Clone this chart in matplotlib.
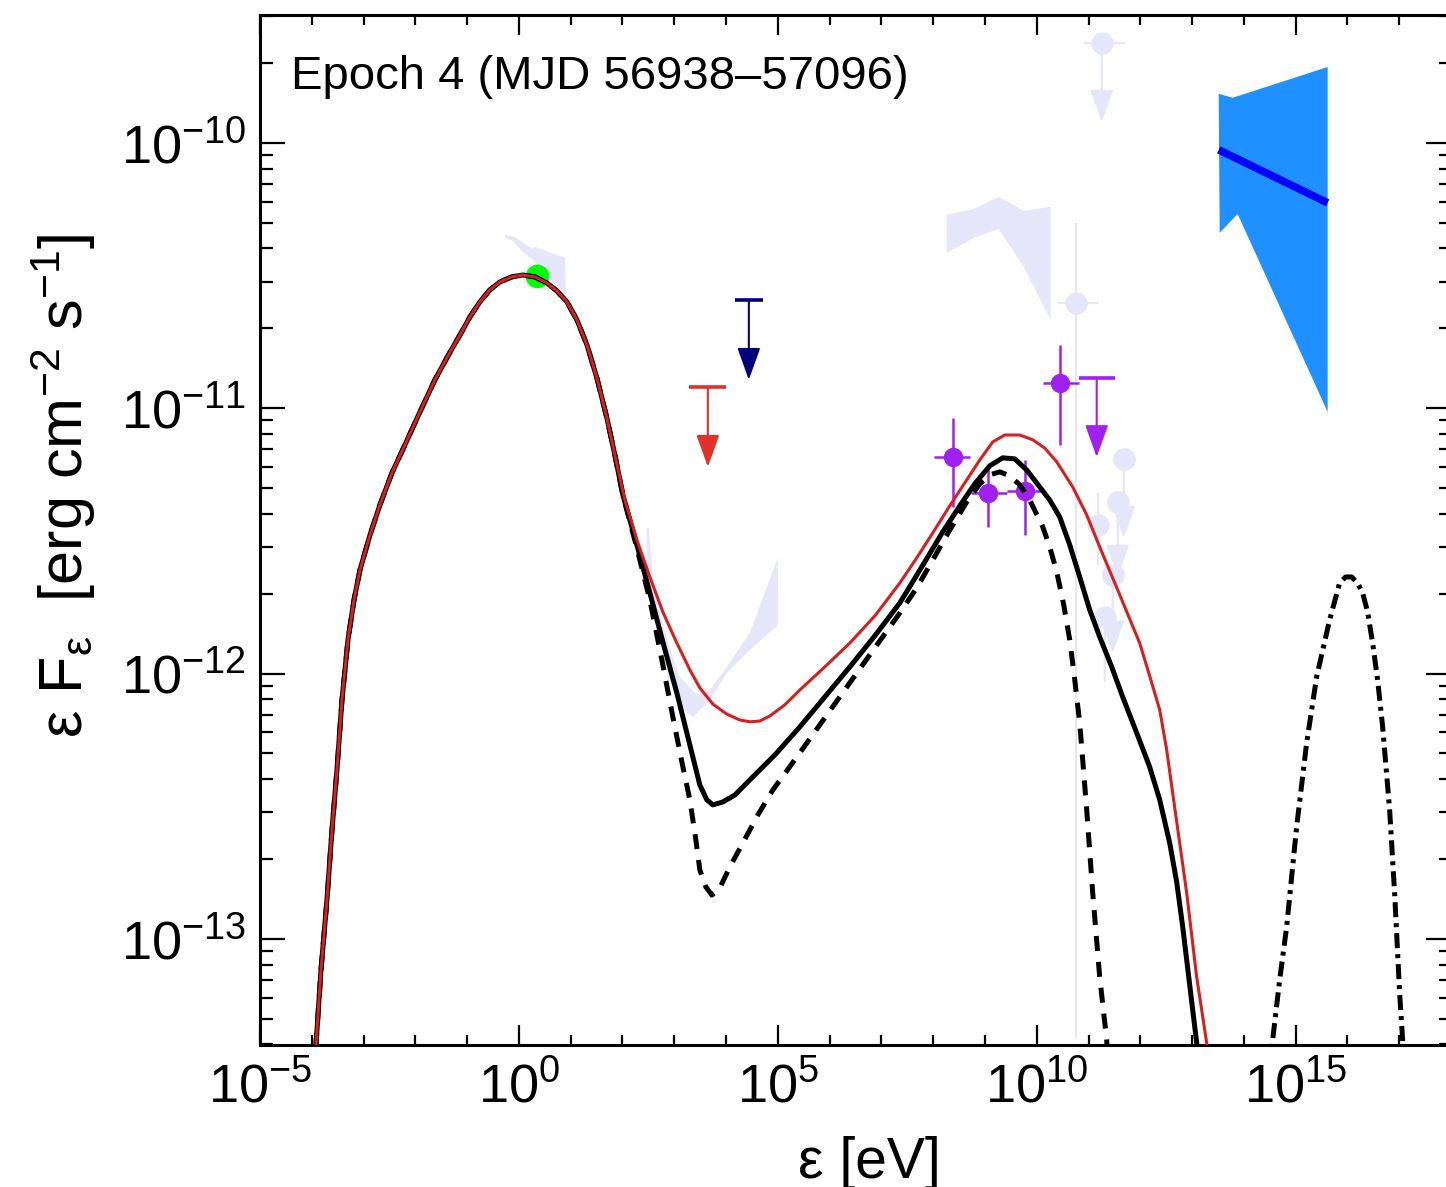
import numpy as np
import matplotlib.pyplot as plt
from matplotlib.ticker import FixedLocator, LogFormatterMathtext, NullFormatter

plt.rcParams['font.family'] = ['Liberation Sans', 'DejaVu Sans']
plt.rcParams['mathtext.fontset'] = 'custom'
plt.rcParams['mathtext.rm'] = 'Liberation Sans'
plt.rcParams['mathtext.it'] = 'Liberation Sans:italic'
plt.rcParams['mathtext.default'] = 'regular'

# ---- model curves: log10(energy / eV), log10(flux / erg cm^-2 s^-1) ----
# synchrotron part, common to all three SSC curves
sync_le = [-3.996, -3.919, -3.822, -3.707, -3.610, -3.514, -3.417, -3.301, -3.185, -3.069,
           -2.876, -2.683, -2.452, -2.201, -1.911, -1.622, -1.371, -1.139, -0.946, -0.753,
           -0.560, -0.367, -0.135, 0.077, 0.309, 0.541, 0.734, 0.927, 1.120, 1.313,
           1.506, 1.699, 1.853]
sync_lf = [-13.607, -13.400, -13.117, -12.853, -12.590, -12.363, -12.100, -11.873, -11.723, -11.609,
           -11.478, -11.364, -11.244, -11.138, -11.014, -10.893, -10.803, -10.724, -10.656, -10.599,
           -10.554, -10.524, -10.505, -10.498, -10.505, -10.528, -10.558, -10.599, -10.667, -10.761,
           -10.886, -11.037, -11.176]

total_le = sync_le + [2.008, 2.278, 2.529, 2.780, 3.050, 3.301, 3.494, 3.629, 3.745, 3.938,
                      4.170, 4.459, 4.942, 5.425, 5.907, 6.390, 6.873, 7.355, 7.780, 8.185,
                      8.514, 8.803, 9.093, 9.344, 9.575, 9.807, 10.058, 10.251, 10.444, 10.637,
                      10.830, 11.023, 11.216, 11.448, 11.660, 11.931, 12.181, 12.375, 12.568, 12.703,
                      12.819, 12.954, 13.089, 13.205]
total_lf = sync_lf + [-11.327, -11.515, -11.696, -11.881, -12.073, -12.269, -12.420, -12.476, -12.495, -12.484,
                      -12.458, -12.401, -12.307, -12.201, -12.088, -11.975, -11.858, -11.734, -11.598, -11.466,
                      -11.368, -11.285, -11.217, -11.187, -11.191, -11.233, -11.297, -11.346, -11.410, -11.515,
                      -11.636, -11.760, -11.862, -11.975, -12.088, -12.224, -12.352, -12.476, -12.639, -12.786,
                      -12.955, -13.174, -13.392, -13.607]

red_le = sync_le + [2.046, 2.278, 2.529, 2.780, 3.050, 3.301, 3.494, 3.745, 4.015, 4.266,
                    4.459, 4.653, 4.846, 5.135, 5.425, 5.907, 6.390, 6.873, 7.355, 7.683,
                    7.992, 8.320, 8.649, 8.900, 9.151, 9.382, 9.672, 9.923, 10.154, 10.386,
                    10.695, 10.965, 11.216, 11.564, 11.988, 12.181, 12.375, 12.510, 12.625, 12.761,
                    12.896, 13.089, 13.282, 13.378]
red_lf = sync_lf + [-11.346, -11.496, -11.636, -11.768, -11.885, -11.986, -12.054, -12.115, -12.153, -12.175,
                    -12.182, -12.179, -12.160, -12.118, -12.062, -11.975, -11.885, -11.783, -11.659, -11.564,
                    -11.470, -11.368, -11.270, -11.195, -11.127, -11.101, -11.101, -11.119, -11.150, -11.202,
                    -11.297, -11.402, -11.523, -11.685, -11.885, -12.009, -12.137, -12.288, -12.450, -12.639,
                    -12.827, -13.144, -13.392, -13.607]

dash_le = sync_le + [2.008, 2.278, 2.529, 2.761, 2.973, 3.147, 3.301, 3.417, 3.494, 3.610,
                     3.726, 3.880, 4.073, 4.324, 4.614, 4.903, 5.425, 5.907, 6.390, 6.873,
                     7.355, 7.683, 7.992, 8.320, 8.649, 8.900, 9.093, 9.286, 9.479, 9.672,
                     9.865, 10.116, 10.251, 10.386, 10.521, 10.637, 10.734, 10.830, 10.965, 11.081,
                     11.216, 11.351, 11.409]
dash_lf = sync_lf + [-11.327, -11.527, -11.723, -11.949, -12.164, -12.333, -12.476, -12.627, -12.740, -12.804,
                     -12.835, -12.808, -12.729, -12.639, -12.533, -12.439, -12.299, -12.167, -12.035, -11.903,
                     -11.772, -11.677, -11.572, -11.459, -11.353, -11.285, -11.251, -11.240, -11.255, -11.289,
                     -11.346, -11.447, -11.523, -11.617, -11.741, -11.873, -12.024, -12.186, -12.514, -12.827,
                     -13.144, -13.381, -13.607]

dd_le = [14.498, 14.556, 14.691, 14.826, 15.019, 15.212, 15.405, 15.656, 15.849, 15.965,
         16.081, 16.197, 16.293, 16.390, 16.486, 16.583, 16.680, 16.815, 16.911, 17.008,
         17.066, 17.104]
dd_lf = [-13.607, -13.381, -13.155, -12.955, -12.578, -12.262, -12.013, -11.798, -11.659, -11.636,
         -11.636, -11.659, -11.696, -11.768, -11.885, -12.024, -12.201, -12.514, -12.827, -13.204,
         -13.381, -13.607]

# ---- archival bands (lavender) ----
opt_band_le = [-0.270, -0.077, 0.077, 0.270, 0.309, 0.888, 0.907, 0.734, 0.541, 0.270, 0.077, -0.116, -0.270]
opt_band_lf = [-10.347, -10.354, -10.377, -10.400, -10.392, -10.433, -10.573, -10.543, -10.505, -10.441,
               -10.411, -10.369, -10.358]
xr_band_le = [2.471, 2.510, 2.587, 2.857, 3.108, 3.436, 3.687, 4.015, 4.459, 5.000,
              5.000, 4.459, 4.015, 3.687, 3.359, 3.108, 2.857, 2.664, 2.471]
xr_band_lf = [-11.451, -11.451, -11.659, -11.873, -12.013, -12.081, -12.062, -11.975, -11.847, -11.564,
              -11.817, -11.911, -11.998, -12.100, -12.164, -12.126, -11.998, -11.824, -11.659]
gam_band_le = [8.263, 8.784, 9.266, 9.749, 10.270, 10.270, 9.749, 9.266, 8.784, 8.263]
gam_band_lf = [-10.271, -10.249, -10.204, -10.256, -10.241, -10.667, -10.467, -10.324, -10.358, -10.415]

# archival points: centre, x range, y range
arc_le = [10.753, 11.178, 11.680, 11.564, 11.467, 11.313]
arc_lf = [-10.603, -11.440, -11.191, -11.353, -11.628, -11.787]
arc_lx_lo = [10.405, 11.178, 11.680, 11.564, 11.467, 11.313]
arc_lx_hi = [11.197, 11.178, 11.680, 11.564, 11.467, 11.313]
arc_ly_lo = [-13.370, -11.591, -11.191, -11.353, -11.628, -12.030]
arc_ly_hi = [-10.302, -11.319, -11.191, -11.353, -11.628, -11.787]
# archival upper limits
arc_ul_le = [11.255, 11.680, 11.564, 11.467]
arc_ul_lx_lo = [10.907, 11.680, 11.564, 11.467]
arc_ul_lx_hi = [11.699, 11.680, 11.564, 11.467]
arc_ul_lf = [-9.623, -11.191, -11.353, -11.628]
arc_ul_tip = [-9.921, -11.489, -11.636, -11.922]

# ---- epoch data ----
opt_le, opt_lf = 0.347, -10.501

xul_le = [3.649, 4.440]
xul_lx_lo = [3.292, 4.170]
xul_lx_hi = [4.006, 4.710]
xul_lf = [-10.920, -10.592]
xul_tip = [-11.221, -10.893]
xul_col = ['#E2302A', '#00007F']

lat_le = [8.378, 9.054, 9.768, 10.444]
lat_lx_lo = [8.012, 8.726, 9.421, 10.116]
lat_lx_hi = [8.707, 9.421, 10.116, 10.811]
lat_lf = [-11.184, -11.319, -11.312, -10.905]
lat_ly_lo = [-11.372, -11.447, -11.478, -11.138]
lat_ly_hi = [-11.037, -11.225, -11.195, -10.761]
lat_ul_le, lat_ul_lo, lat_ul_hi = 11.158, 10.811, 11.506
lat_ul_lf, lat_ul_tip = -10.886, -11.184

nu_bow_le = [13.514, 13.784, 15.618, 15.618, 13.880, 13.533]
nu_bow_lf = [-9.815, -9.830, -9.714, -11.014, -10.268, -10.339]
nu_fit_le = [13.514, 15.618]
nu_fit_lf = [-10.026, -10.226]

p = lambda v: 10.0 ** np.asarray(v, dtype=float)

LAV = '#E6E6FA'
PUR = '#A020F0'
ARROW = '-|>,head_length=1.0,head_width=0.36'

fig = plt.figure(figsize=(14.46, 11.87), dpi=100)
ax = fig.add_axes([260 / 1446, 1 - 1045 / 1187, 1191 / 1446, 1030 / 1187])
ax.set_xscale('log')
ax.set_yscale('log')
ax.set_xlim(1e-5, 1e18)
ax.set_ylim(10 ** -13.4, 10 ** -9.518)

# archival (faded) data
for le, lf in [(opt_band_le, opt_band_lf), (xr_band_le, xr_band_lf), (gam_band_le, gam_band_lf)]:
    ax.fill(p(le), p(lf), color=LAV, lw=0, zorder=1)

x = p(arc_le)
y = p(arc_lf)
ax.errorbar(x, y, xerr=[x - p(arc_lx_lo), p(arc_lx_hi) - x], yerr=[y - p(arc_ly_lo), p(arc_ly_hi) - y],
            fmt='o', ms=15, color=LAV, ecolor=LAV, elinewidth=1.6, capsize=0, zorder=1)
x = p(arc_ul_le)
y = p(arc_ul_lf)
ax.errorbar(x, y, xerr=[x - p(arc_ul_lx_lo), p(arc_ul_lx_hi) - x], fmt='o', ms=15,
            color=LAV, ecolor=LAV, elinewidth=1.6, capsize=0, zorder=1)
for xi, yi, ti in zip(x, y, p(arc_ul_tip)):
    ax.annotate('', xy=(xi, ti), xytext=(xi, yi), zorder=1,
                arrowprops=dict(arrowstyle=ARROW, mutation_scale=20, color=LAV, lw=1.6, shrinkA=0, shrinkB=0))

# neutrino bowtie
ax.fill(p(nu_bow_le), p(nu_bow_lf), color='#1E90FF', lw=0, zorder=2)
ax.plot(p(nu_fit_le), p(nu_fit_lf), color='#0000FF', lw=5.5, solid_capstyle='butt', zorder=3)

# optical point
ax.plot(p(opt_le), p(opt_lf), 'o', ms=17, color='#00FF00', mec='none', zorder=3)

# X-ray upper limits
for le, lo, hi, lf, tip, c in zip(xul_le, xul_lx_lo, xul_lx_hi, xul_lf, xul_tip, xul_col):
    ax.hlines(p(lf), p(lo), p(hi), color=c, lw=2.6, zorder=3)
    ax.annotate('', xy=(p(le), p(tip)), xytext=(p(le), p(lf)), zorder=3,
                arrowprops=dict(arrowstyle=ARROW, mutation_scale=20, color=c, lw=1.5, shrinkA=0, shrinkB=0))

# Fermi-LAT points
x = p(lat_le)
y = p(lat_lf)
ax.errorbar(x, y, xerr=[x - p(lat_lx_lo), p(lat_lx_hi) - x], yerr=[y - p(lat_ly_lo), p(lat_ly_hi) - y],
            fmt='o', ms=14, color=PUR, mec='none', ecolor=PUR, elinewidth=1.8, capsize=0, zorder=3)
ax.hlines(p(lat_ul_lf), p(lat_ul_lo), p(lat_ul_hi), color=PUR, lw=2.6, zorder=3)
ax.annotate('', xy=(p(lat_ul_le), p(lat_ul_tip)), xytext=(p(lat_ul_le), p(lat_ul_lf)), zorder=3,
            arrowprops=dict(arrowstyle=ARROW, mutation_scale=20, color=PUR, lw=1.5, shrinkA=0, shrinkB=0))

# model curves
ax.plot(p(total_le), p(total_lf), color='black', lw=3.6, zorder=4)
ax.plot(p(dash_le), p(dash_lf), color='black', lw=3.6, ls=(0, (3.0, 2.2)), zorder=4)
ax.plot(p(dd_le), p(dd_lf), color='black', lw=3.6, ls=(0, (3.0, 1.2, 0.8, 1.2)), zorder=4)
ax.plot(p(red_le), p(red_lf), color='#D42020', lw=2.2, zorder=5)

# axes styling
ax.xaxis.set_major_locator(FixedLocator([1e-5, 1e0, 1e5, 1e10, 1e15]))
ax.xaxis.set_minor_locator(FixedLocator(10.0 ** np.arange(-5, 19)))
ax.xaxis.set_major_formatter(LogFormatterMathtext())
ax.xaxis.set_minor_formatter(NullFormatter())
ax.yaxis.set_major_locator(FixedLocator([1e-13, 1e-12, 1e-11, 1e-10]))
ax.yaxis.set_major_formatter(LogFormatterMathtext())
ax.yaxis.set_minor_locator(FixedLocator([m * 10.0 ** e for e in range(-14, -9) for m in range(2, 10)
                                         if 10 ** -13.4 < m * 10.0 ** e < 10 ** -9.518]))
ax.yaxis.set_minor_formatter(NullFormatter())

for s in ax.spines.values():
    s.set_linewidth(2.2)
ax.tick_params(which='both', direction='in', top=True, right=True, width=1.6, labelsize=39)
ax.tick_params(axis='x', which='major', length=14.5, pad=12)
ax.tick_params(axis='x', which='minor', length=7.5)
ax.tick_params(axis='y', which='major', length=18, pad=10)
ax.tick_params(axis='y', which='minor', length=9)

ax.set_xlabel('ε [eV]', fontsize=41)
ax.xaxis.set_label_coords(0.512, -0.088)
ax.set_ylabel('ε F$_{ε}$  [erg cm$^{-2}$ s$^{-1}$]', fontsize=44)
ax.yaxis.set_label_coords(-0.136, 0.543)
ax.text(0.026, 0.940, 'Epoch 4 (MJD 56938–57096)', transform=ax.transAxes, fontsize=34,
        ha='left', va='center')

plt.savefig('out.png', dpi=100)
